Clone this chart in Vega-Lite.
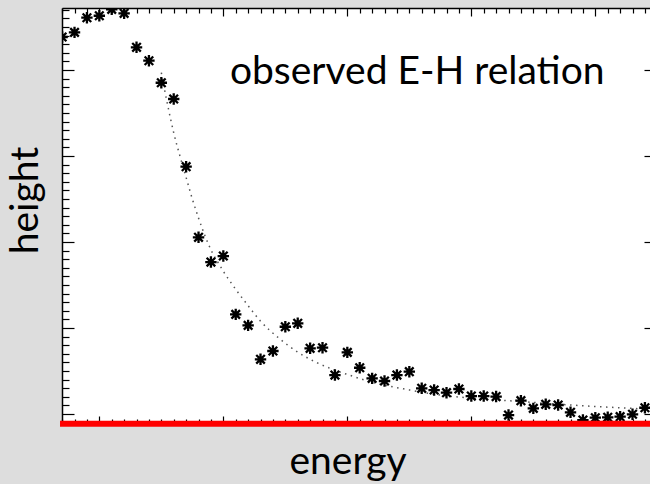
{
  "$schema": "https://vega.github.io/schema/vega-lite/v6.json",
  "width": 588,
  "height": 416,
  "autosize": {"type": "none"},
  "padding": {"left": 62, "top": 8, "right": 0, "bottom": 60},
  "background": "#dddddd",
  "config": {
    "view": {"fill": "white", "stroke": null},
    "axis": {
      "labels": false,
      "grid": false,
      "domainColor": "black",
      "tickColor": "black",
      "domainWidth": 1.5,
      "tickWidth": 1.2,
      "titleFont": "Lato",
      "titleFontSize": 39,
      "titleFontWeight": "normal",
      "titleColor": "black"
    }
  },
  "datasets": {
    "stars": [
      {"energy": 0.7, "height": 4.384}, {"energy": 0.8, "height": 4.438}, {"energy": 0.9, "height": 4.608},
      {"energy": 1.0, "height": 4.631}, {"energy": 1.1, "height": 4.706}, {"energy": 1.2, "height": 4.659},
      {"energy": 1.3, "height": 4.264}, {"energy": 1.4, "height": 4.108}, {"energy": 1.5, "height": 3.852},
      {"energy": 1.6, "height": 3.663}, {"energy": 1.7, "height": 2.876}, {"energy": 1.8, "height": 2.055},
      {"energy": 1.9, "height": 1.767}, {"energy": 2.0, "height": 1.837}, {"energy": 2.1, "height": 1.159},
      {"energy": 2.2, "height": 1.031}, {"energy": 2.3, "height": 0.636}, {"energy": 2.4, "height": 0.733},
      {"energy": 2.5, "height": 1.015}, {"energy": 2.6, "height": 1.055}, {"energy": 2.7, "height": 0.764},
      {"energy": 2.8, "height": 0.771}, {"energy": 2.9, "height": 0.453}, {"energy": 3.0, "height": 0.717},
      {"energy": 3.1, "height": 0.538}, {"energy": 3.2, "height": 0.415}, {"energy": 3.3, "height": 0.384},
      {"energy": 3.4, "height": 0.453}, {"energy": 3.5, "height": 0.492}, {"energy": 3.6, "height": 0.299},
      {"energy": 3.7, "height": 0.279}, {"energy": 3.8, "height": 0.248}, {"energy": 3.9, "height": 0.291},
      {"energy": 4.0, "height": 0.209}, {"energy": 4.1, "height": 0.209}, {"energy": 4.2, "height": 0.203},
      {"energy": 4.3, "height": -0.012}, {"energy": 4.4, "height": 0.155}, {"energy": 4.5, "height": 0.066},
      {"energy": 4.6, "height": 0.113}, {"energy": 4.7, "height": 0.105}, {"energy": 4.8, "height": 0.020},
      {"energy": 4.9, "height": -0.070}, {"energy": 5.0, "height": -0.043}, {"energy": 5.1, "height": -0.038},
      {"energy": 5.2, "height": -0.031}, {"energy": 5.3, "height": -0.003}, {"energy": 5.4, "height": 0.073}
    ],
    "fit": [
      {"energy": 1.50, "height": 3.97}, {"energy": 1.55, "height": 3.60}, {"energy": 1.60, "height": 3.27},
      {"energy": 1.65, "height": 3.00}, {"energy": 1.70, "height": 2.75}, {"energy": 1.75, "height": 2.50},
      {"energy": 1.80, "height": 2.28}, {"energy": 1.85, "height": 2.08}, {"energy": 1.90, "height": 1.91},
      {"energy": 1.95, "height": 1.78}, {"energy": 2.00, "height": 1.66}, {"energy": 2.10, "height": 1.45},
      {"energy": 2.20, "height": 1.26}, {"energy": 2.30, "height": 1.08}, {"energy": 2.45, "height": 0.88},
      {"energy": 2.60, "height": 0.72}, {"energy": 2.75, "height": 0.60}, {"energy": 2.90, "height": 0.51},
      {"energy": 3.00, "height": 0.46}, {"energy": 3.20, "height": 0.37}, {"energy": 3.50, "height": 0.28},
      {"energy": 3.75, "height": 0.22}, {"energy": 4.00, "height": 0.185}, {"energy": 4.30, "height": 0.155},
      {"energy": 4.55, "height": 0.13}, {"energy": 4.80, "height": 0.105}, {"energy": 5.10, "height": 0.08},
      {"energy": 5.40, "height": 0.058}
    ]
  },
  "layer": [
    {
      "data": {"name": "fit"},
      "mark": {"type": "line", "interpolate": "monotone", "color": "#555555", "strokeWidth": 1.5, "strokeDash": [1.5, 4.5]},
      "encoding": {
        "x": {"field": "energy", "type": "quantitative",
              "scale": {"domain": [0.699, 5.441], "nice": false, "zero": false},
              "axis": {"orient": "bottom", "values": [1, 2, 3, 4, 5], "tickSize": -8, "title": "energy",
                       "titleX": 285.5, "titleY": 49, "titleBaseline": "alphabetic", "titleAlign": "center"}},
        "y": {"field": "height", "type": "quantitative",
              "scale": {"domain": [-0.116, 4.721], "nice": false, "zero": false},
              "axis": {"orient": "left", "values": [0, 1, 2, 3, 4], "tickSize": -12, "title": "height",
                       "titleX": -25, "titleY": 192, "titleAngle": -90, "titleBaseline": "alphabetic", "titleAlign": "center"}}
      }
    },
    {
      "data": {"name": "stars"},
      "mark": {"type": "point", "shape": "M-1,0L1,0M0,-1L0,1M-0.75,-0.75L0.75,0.75M-0.75,0.75L0.75,-0.75",
               "filled": false, "color": "black", "strokeWidth": 2.3, "size": 130, "opacity": 1, "clip": true},
      "encoding": {
        "x": {"field": "energy", "type": "quantitative",
              "scale": {"domain": [0.699, 5.441], "nice": false, "zero": false},
              "axis": {"orient": "bottom", "domain": false, "tickSize": -5, "title": null,
                       "values": [0.7,0.8,0.9,1.1,1.2,1.3,1.4,1.5,1.6,1.7,1.8,1.9,2.1,2.2,2.3,2.4,2.5,2.6,2.7,2.8,2.9,3.1,3.2,3.3,3.4,3.5,3.6,3.7,3.8,3.9,4.1,4.2,4.3,4.4,4.5,4.6,4.7,4.8,4.9,5.1,5.2,5.3,5.4]}},
        "y": {"field": "height", "type": "quantitative",
              "scale": {"domain": [-0.116, 4.721], "nice": false, "zero": false},
              "axis": {"orient": "left", "domain": false, "tickSize": -7, "title": null,
                       "values": [0.1,0.2,0.3,0.4,0.5,0.6,0.7,0.8,0.9,1.1,1.2,1.3,1.4,1.5,1.6,1.7,1.8,1.9,2.1,2.2,2.3,2.4,2.5,2.6,2.7,2.8,2.9,3.1,3.2,3.3,3.4,3.5,3.6,3.7,3.8,3.9,4.1,4.2,4.3,4.4,4.5,4.6,4.7]}}
      }
    },
    {
      "data": {"values": [{}]},
      "mark": {"type": "text", "text": "observed E-H relation", "font": "Lato", "fontSize": 39,
               "align": "left", "baseline": "alphabetic", "color": "black"},
      "encoding": {
        "x": {"datum": 2.053, "type": "quantitative",
              "scale": {"domain": [0.699, 5.441], "nice": false, "zero": false},
              "axis": {"orient": "top", "values": [1, 2, 3, 4, 5], "tickSize": -8, "title": null}},
        "y": {"datum": 3.837, "type": "quantitative",
              "scale": {"domain": [-0.116, 4.721], "nice": false, "zero": false},
              "axis": {"orient": "right", "values": [0, 1, 2, 3, 4], "tickSize": -12, "offset": 6, "title": null}}
      }
    },
    {
      "data": {"values": [{}]},
      "mark": {"type": "rule", "color": "#ff0000", "strokeWidth": 6},
      "encoding": {
        "x": {"datum": 0.683, "type": "quantitative",
              "scale": {"domain": [0.699, 5.441], "nice": false, "zero": false},
              "axis": {"orient": "top", "domain": false, "tickSize": -5, "title": null,
                       "values": [0.7,0.8,0.9,1.1,1.2,1.3,1.4,1.5,1.6,1.7,1.8,1.9,2.1,2.2,2.3,2.4,2.5,2.6,2.7,2.8,2.9,3.1,3.2,3.3,3.4,3.5,3.6,3.7,3.8,3.9,4.1,4.2,4.3,4.4,4.5,4.6,4.7,4.8,4.9,5.1,5.2,5.3,5.4]}},
        "x2": {"datum": 5.5},
        "y": {"datum": -0.113, "type": "quantitative",
              "scale": {"domain": [-0.116, 4.721], "nice": false, "zero": false},
              "axis": null}
      }
    }
  ],
  "resolve": {"axis": {"x": "independent", "y": "independent"}}
}
